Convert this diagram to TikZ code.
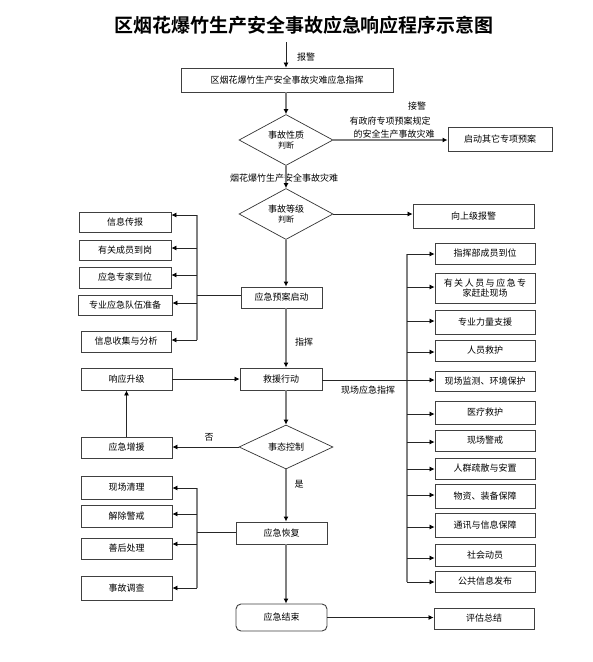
\documentclass[tikz,border=0pt]{standalone}
\usepackage{fontspec}
\setmainfont{Noto Sans CJK SC}
\newfontfamily\titlefont{Noto Sans CJK SC Bold}
\usetikzlibrary{arrows.meta,shapes.geometric}
\begin{document}
\begin{tikzpicture}[x=1pt,y=-1pt,
  every node/.style={font=\fontsize{9}{11}\selectfont, inner sep=0pt},
  box/.style={draw=black!75, line width=0.9pt, fill=white, align=center},
  dia/.style={draw=black!80, line width=0.7pt, diamond, aspect=1.85, align=center, font=\fontsize{9}{10.5}\selectfont},
  gl/.style={draw=black!50, line width=1.1pt},
  bl/.style={draw=black!85, line width=0.7pt},
  arr/.style={-{Latex[length=5pt,width=5pt,color=black]}},
  lbl/.style={font=\fontsize{9}{11}\selectfont}
]
\useasboundingbox (0,0) rectangle (593,662);
% title
\node[font=\titlefont\fontsize{19}{22}\selectfont] (title) at (304,25) {区烟花爆竹生产安全事故应急响应程序示意图};
% main chain
\coordinate (start) at (286,42);
\node[box, minimum width=212pt, minimum height=24pt] (b1) at (287,80) {区烟花爆竹生产安全事故灾难应急指挥};
\node[dia, minimum width=94pt, minimum height=51pt] (d1) at (286,140) {事故性质\\[-1pt]{\fontsize{8}{9}\selectfont 判断}};
\node[box, minimum width=104pt, minimum height=24pt] (other) at (500,139) {启动其它专项预案};
\node[dia, minimum width=94pt, minimum height=51pt] (d2) at (286,214) {事故等级\\[-1pt]{\fontsize{8}{9}\selectfont 判断}};
\node[box, minimum width=121pt, minimum height=24pt] (up) at (473.5,216) {向上级报警};
\node[box, minimum width=81pt, minimum height=21pt] (plan) at (281.5,297.5) {应急预案启动};
\node[box, minimum width=82pt, minimum height=22pt] (rescue) at (281,379) {救援行动};
\node[box, minimum width=91pt, minimum height=22pt] (upgrade) at (126.5,379) {响应升级};
\node[dia, minimum width=94pt, minimum height=44pt, aspect=2.1] (d3) at (286,447) {事态控制};
\node[box, minimum width=91pt, minimum height=21pt] (reinf) at (126.5,447.5) {应急增援};
\node[box, minimum width=91pt, minimum height=22pt] (recover) at (281.5,533) {应急恢复};
\node[box, rounded corners=5pt, minimum width=91pt, minimum height=27pt] (finish) at (281.5,617.5) {应急结束};
\node[box, minimum width=100pt, minimum height=21pt] (eval) at (484,618.5) {评估总结};

% left upper boxes
\node[box, minimum width=92pt, minimum height=20pt] (L1) at (125,222) {信息传报};
\node[box, minimum width=92pt, minimum height=20pt] (L2) at (125,250) {有关成员到岗};
\node[box, minimum width=92pt, minimum height=21pt] (L3) at (125,277.5) {应急专家到位};
\node[box, minimum width=94pt, minimum height=20pt] (L4) at (125,305) {专业应急队伍准备};
\node[box, minimum width=90pt, minimum height=21pt] (L5) at (126,341.5) {信息收集与分析};

% left lower boxes
\node[box, minimum width=91pt, minimum height=23pt] (C1) at (126.5,487.5) {现场清理};
\node[box, minimum width=91pt, minimum height=22pt] (C2) at (126.5,516) {解除警戒};
\node[box, minimum width=91pt, minimum height=21pt] (C3) at (126.5,548.5) {善后处理};
\node[box, minimum width=91pt, minimum height=24pt] (C4) at (126.5,588) {事故调查};

% right boxes
\node[box, minimum width=100pt, minimum height=21pt] (R1) at (485,253.5) {指挥部成员到位};
\node[box, minimum width=100pt, minimum height=30pt, font=\fontsize{9}{10.5}\selectfont] (R2) at (485,288) {有\,关\,人\,员\,与\,应\,急\,专\\家赶赴现场};
\node[box, minimum width=100pt, minimum height=24pt] (R3) at (485,322) {专业力量支援};
\node[box, minimum width=100pt, minimum height=21pt] (R4) at (485,350.5) {人员救护};
\node[box, minimum width=100pt, minimum height=20pt] (R5) at (485,381) {现场监测、环境保护};
\node[box, minimum width=100pt, minimum height=23pt] (R6) at (485,412.5) {医疗救护};
\node[box, minimum width=100pt, minimum height=21pt] (R7) at (485,440.5) {现场警戒};
\node[box, minimum width=100pt, minimum height=21pt] (R8) at (485,468.5) {人群疏散与安置};
\node[box, minimum width=100pt, minimum height=24pt] (R9) at (485,496) {物资、装备保障};
\node[box, minimum width=100pt, minimum height=24pt] (R10) at (485,525) {通讯与信息保障};
\node[box, minimum width=100pt, minimum height=22pt] (R11) at (485,555) {社会动员};
\node[box, minimum width=100pt, minimum height=21pt] (R12) at (485,581.5) {公共信息发布};

% labels
\node[lbl] (t1) at (306,57) {报警};
\node[lbl] (t2) at (417,106) {接警};
\node[lbl] (t3) at (390,121) {有政府专项预案规定};
\node[lbl] (t4) at (394,134) {的安全生产事故灾难};
\node[lbl] (t5) at (284,178) {烟花爆竹生产安全事故灾难};
\node[lbl] (t6) at (304,342) {指挥};
\node[lbl] (t7) at (368,390) {现场应急指挥};
\node[lbl] (t8) at (209,437) {否};
\node[lbl] (t9) at (299,484) {是};

% main connectors
\draw[bl,arr] (start) -- (start |- b1.north);
\draw[gl,arr] (b1.south -| d1.north) -- (d1.north);
\draw[gl,arr] (d1.east) -- (d1.east -| other.west);
\draw[gl,arr] (d1.south) -- (d2.north);
\draw[bl,arr] (d2.east) -- (d2.east -| up.west);
\draw[gl,arr] (d2.south) -- (d2.south |- plan.north);
\draw[gl,arr] (d2.south |- plan.south) -- (d2.south |- rescue.north);
\draw[gl,arr] (d2.south |- rescue.south) -- (d3.north);
\draw[bl,arr] (upgrade.east) -- (rescue.west);
\draw[bl,arr] (d3.west) -- (d3.west -| reinf.east);
\draw[bl,arr] (reinf.north) -- (upgrade.south);
\draw[gl,arr] (d3.south) -- (d3.south |- recover.north);
\draw[gl,arr] (d3.south |- recover.south) -- (d3.south |- finish.north);
\draw[bl,arr] (finish.east) -- (finish.east -| eval.west);

% left upper bus
\coordinate (lu1) at (197,215);
\coordinate (lu2) at (197,248);
\coordinate (lu3) at (197,275);
\coordinate (lu4) at (197,303);
\coordinate (lu5) at (197,340);
\coordinate (luj) at (197,295);
\draw[gl] (lu1) -- (lu5);
\draw[bl] (plan.west |- luj) -- (luj);
\foreach \i in {1,...,5} \draw[bl,arr] (lu\i) -- (lu\i -| L\i.east);

% left lower bus
\coordinate (ll1) at (197,488);
\coordinate (ll2) at (197,514);
\coordinate (ll3) at (197,544);
\coordinate (ll4) at (197,588);
\coordinate (llj) at (197,532);
\draw[gl] (ll1) -- (ll4);
\draw[bl] (recover.west |- llj) -- (llj);
\foreach \i in {1,...,4} \draw[bl,arr] (ll\i) -- (ll\i -| C\i.east);

% right bus
\coordinate (r1) at (407,254);
\coordinate (r2) at (407,287);
\coordinate (r3) at (407,321);
\coordinate (r4) at (407,352);
\coordinate (r5) at (407,380);
\coordinate (r6) at (407,414);
\coordinate (r7) at (407,442);
\coordinate (r8) at (407,469);
\coordinate (r9) at (407,495);
\coordinate (r10) at (407,527);
\coordinate (r11) at (407,558);
\coordinate (r12) at (407,582);
\draw[gl] (r1) -- (r12);
\draw[bl] (rescue.east |- r5) -- (r5);
\foreach \i in {1,...,12} \draw[bl,arr] (r\i) -- (r\i -| R\i.west);
\end{tikzpicture}
\end{document}
